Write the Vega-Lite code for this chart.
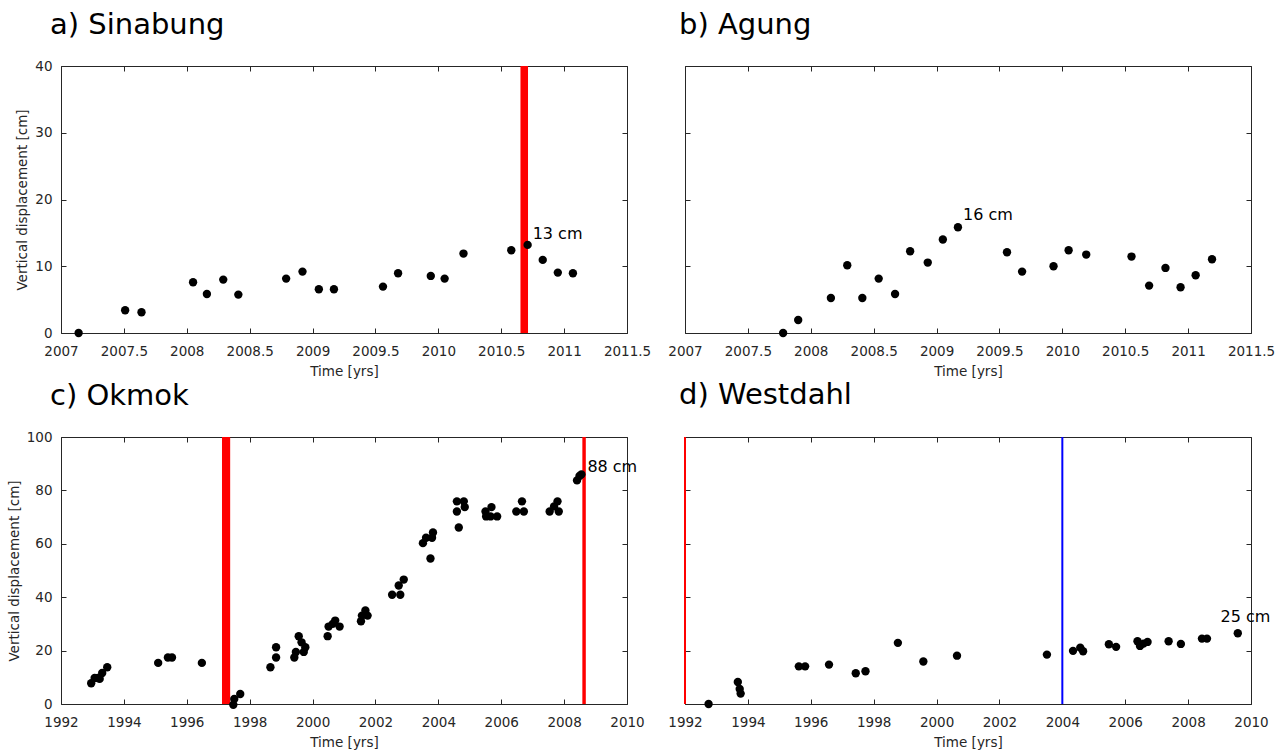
{
  "$schema": "https://vega.github.io/schema/vega-lite/v6.json",
  "padding": {"left": 6, "top": 10, "right": 5, "bottom": 5},
  "background": "#ffffff",
  "config": {
    "font": "DejaVu Sans",
    "view": {"stroke": "#262626", "strokeWidth": 1},
    "axis": {"domain": false, "grid": false, "ticks": true, "tickSize": -5, "tickColor": "#262626", "tickWidth": 1, "labelColor": "#262626", "labelFontSize": 13.5, "labelFont": "DejaVu Sans", "titleFont": "DejaVu Sans", "titleFontSize": 13.5, "titleFontWeight": "normal", "titleColor": "#262626", "labelFlush": false, "labelOverlap": false},
    "axisX": {"labelPadding": 16, "titlePadding": 7},
    "axisY": {"labelPadding": 14, "titlePadding": 5},
    "title": {"anchor": "start", "fontSize": 29, "fontWeight": "normal", "font": "DejaVu Sans", "color": "#000000", "baseline": "alphabetic", "offset": 26, "frame": "group"}
  },
  "datasets": {
    "a_pts": [
      {"t": 2007.14, "d": 0}, {"t": 2007.51, "d": 3.4}, {"t": 2007.64, "d": 3.1}, {"t": 2008.05, "d": 7.6},
      {"t": 2008.16, "d": 5.85}, {"t": 2008.29, "d": 8.0}, {"t": 2008.41, "d": 5.75}, {"t": 2008.79, "d": 8.15},
      {"t": 2008.92, "d": 9.2}, {"t": 2009.05, "d": 6.55}, {"t": 2009.17, "d": 6.55}, {"t": 2009.56, "d": 6.95},
      {"t": 2009.68, "d": 8.95}, {"t": 2009.94, "d": 8.55}, {"t": 2010.05, "d": 8.15}, {"t": 2010.20, "d": 11.9},
      {"t": 2010.58, "d": 12.4}, {"t": 2010.71, "d": 13.2}, {"t": 2010.83, "d": 10.95}, {"t": 2010.95, "d": 9.05},
      {"t": 2011.07, "d": 8.95}
    ],
    "a_events": [{"start": 2010.653, "end": 2010.713}],
    "a_labels": [{"t": 2010.75, "d": 14.9, "label": "13 cm"}],
    "b_pts": [
      {"t": 2007.78, "d": 0}, {"t": 2007.90, "d": 1.95}, {"t": 2008.16, "d": 5.25}, {"t": 2008.29, "d": 10.15},
      {"t": 2008.41, "d": 5.25}, {"t": 2008.54, "d": 8.15}, {"t": 2008.67, "d": 5.85}, {"t": 2008.79, "d": 12.25},
      {"t": 2008.93, "d": 10.55}, {"t": 2009.05, "d": 14.0}, {"t": 2009.17, "d": 15.85}, {"t": 2009.56, "d": 12.1},
      {"t": 2009.68, "d": 9.2}, {"t": 2009.93, "d": 10.0}, {"t": 2010.05, "d": 12.4}, {"t": 2010.19, "d": 11.75},
      {"t": 2010.55, "d": 11.45}, {"t": 2010.69, "d": 7.1}, {"t": 2010.82, "d": 9.75}, {"t": 2010.94, "d": 6.85},
      {"t": 2011.06, "d": 8.65}, {"t": 2011.19, "d": 11.05}
    ],
    "b_labels": [{"t": 2009.21, "d": 17.65, "label": "16 cm"}],
    "c_pts": [
      {"t": 1992.96, "d": 7.75}, {"t": 1993.07, "d": 9.75}, {"t": 1993.17, "d": 9.75}, {"t": 1993.23, "d": 9.4},
      {"t": 1993.31, "d": 11.6}, {"t": 1993.47, "d": 13.75}, {"t": 1995.09, "d": 15.4}, {"t": 1995.40, "d": 17.4},
      {"t": 1995.53, "d": 17.4}, {"t": 1996.48, "d": 15.4}, {"t": 1997.48, "d": -0.3}, {"t": 1997.51, "d": 1.9},
      {"t": 1997.70, "d": 3.75}, {"t": 1998.66, "d": 13.75}, {"t": 1998.84, "d": 17.4}, {"t": 1998.84, "d": 21.25},
      {"t": 1999.42, "d": 17.4}, {"t": 1999.47, "d": 19.5}, {"t": 1999.56, "d": 25.4}, {"t": 1999.65, "d": 23.1},
      {"t": 1999.72, "d": 19.5}, {"t": 1999.77, "d": 21.25}, {"t": 2000.48, "d": 25.4}, {"t": 2000.51, "d": 29},
      {"t": 2000.64, "d": 30}, {"t": 2000.72, "d": 31.25}, {"t": 2000.86, "d": 29}, {"t": 2001.54, "d": 31},
      {"t": 2001.57, "d": 33.1}, {"t": 2001.68, "d": 35}, {"t": 2001.75, "d": 33.1}, {"t": 2002.53, "d": 40.9},
      {"t": 2002.79, "d": 40.9}, {"t": 2002.74, "d": 44.4}, {"t": 2002.90, "d": 46.6}, {"t": 2003.51, "d": 60.25},
      {"t": 2003.61, "d": 62.25}, {"t": 2003.75, "d": 54.5}, {"t": 2003.80, "d": 62.25}, {"t": 2003.83, "d": 64.25},
      {"t": 2004.59, "d": 75.9}, {"t": 2004.59, "d": 72.1}, {"t": 2004.65, "d": 66.1}, {"t": 2004.81, "d": 75.9},
      {"t": 2004.84, "d": 73.75}, {"t": 2005.50, "d": 72.1}, {"t": 2005.52, "d": 70.25}, {"t": 2005.69, "d": 73.75},
      {"t": 2005.66, "d": 70.25}, {"t": 2005.87, "d": 70.25}, {"t": 2006.48, "d": 72.1}, {"t": 2006.66, "d": 75.9},
      {"t": 2006.72, "d": 72.1}, {"t": 2007.54, "d": 72.1}, {"t": 2007.68, "d": 74}, {"t": 2007.79, "d": 75.9},
      {"t": 2007.83, "d": 72.1}, {"t": 2008.41, "d": 83.75}, {"t": 2008.49, "d": 85.4}, {"t": 2008.55, "d": 86}
    ],
    "c_events": [{"start": 1997.12, "end": 1997.38}, {"start": 2008.58, "end": 2008.69}],
    "c_labels": [{"t": 2008.74, "d": 88.8, "label": "88 cm"}],
    "d_pts": [
      {"t": 1992.75, "d": 0}, {"t": 1993.68, "d": 8.25}, {"t": 1993.74, "d": 5.6}, {"t": 1993.77, "d": 3.9},
      {"t": 1995.62, "d": 14.1}, {"t": 1995.82, "d": 14.1}, {"t": 1996.58, "d": 14.75}, {"t": 1997.43, "d": 11.5},
      {"t": 1997.74, "d": 12.25}, {"t": 1998.77, "d": 22.9}, {"t": 1999.58, "d": 15.9}, {"t": 2000.65, "d": 18.1},
      {"t": 2003.51, "d": 18.5}, {"t": 2004.34, "d": 19.9}, {"t": 2004.57, "d": 21.1}, {"t": 2004.66, "d": 19.75},
      {"t": 2005.48, "d": 22.4}, {"t": 2005.71, "d": 21.4}, {"t": 2006.39, "d": 23.5}, {"t": 2006.47, "d": 21.75},
      {"t": 2006.58, "d": 22.6}, {"t": 2006.71, "d": 23.25}, {"t": 2007.38, "d": 23.5}, {"t": 2007.77, "d": 22.5},
      {"t": 2008.44, "d": 24.5}, {"t": 2008.60, "d": 24.5}, {"t": 2009.58, "d": 26.5}
    ],
    "d_red": [{"t": 1992.0}],
    "d_blue": [{"t": 2004.0}],
    "d_labels": [{"t": 2009.03, "d": 32.6, "label": "25 cm"}]
  },
  "bounds": "flush",
  "columns": 2,
  "spacing": {"row": 104, "column": 58},
  "concat": [
    {
      "width": 566, "height": 267,
      "title": {"text": "a) Sinabung", "dx": -11, "offset": 19},
      "resolve": {"axis": {"x": "independent", "y": "independent"}},
      "layer": [
        {"data": {"name": "a_events"}, "mark": {"type": "rect", "color": "#ff0000"},
         "encoding": {
           "x": {"field": "start", "type": "quantitative", "scale": {"domain": [2007, 2011.5], "nice": false, "zero": false}, "axis": null},
           "x2": {"field": "end"},
           "y": {"datum": 0, "type": "quantitative", "scale": {"domain": [0, 40], "nice": false, "zero": false}, "axis": null},
           "y2": {"datum": 40}}},
        {"data": {"name": "a_pts"}, "mark": {"type": "circle", "color": "#000000", "size": 70, "opacity": 1},
         "encoding": {
           "x": {"field": "t", "type": "quantitative", "scale": {"domain": [2007, 2011.5], "nice": false, "zero": false}, "title": "Time [yrs]", "axis": {"values": [2007, 2007.5, 2008, 2008.5, 2009, 2009.5, 2010, 2010.5, 2011, 2011.5], "format": "~f"}},
           "y": {"field": "d", "type": "quantitative", "scale": {"domain": [0, 40], "nice": false, "zero": false}, "title": "Vertical displacement [cm]", "axis": {"values": [0, 10, 20, 30, 40], "format": "d"}}}},
        {"data": {"name": "a_labels"}, "mark": {"type": "text", "align": "left", "baseline": "middle", "fontSize": 16, "color": "#000000", "font": "DejaVu Sans"},
         "encoding": {
           "x": {"field": "t", "type": "quantitative", "scale": {"domain": [2007, 2011.5], "nice": false, "zero": false}, "axis": null},
           "y": {"field": "d", "type": "quantitative", "scale": {"domain": [0, 40], "nice": false, "zero": false}, "axis": null},
           "text": {"field": "label"}}},
        {"data": {"name": "a_pts"}, "mark": {"type": "point", "opacity": 0},
         "encoding": {
           "x": {"field": "t", "type": "quantitative", "scale": {"domain": [2007, 2011.5], "nice": false, "zero": false}, "axis": {"orient": "top", "labels": false, "title": null, "values": [2007, 2007.5, 2008, 2008.5, 2009, 2009.5, 2010, 2010.5, 2011, 2011.5]}},
           "y": {"field": "d", "type": "quantitative", "scale": {"domain": [0, 40], "nice": false, "zero": false}, "axis": {"orient": "right", "labels": false, "title": null, "values": [0, 10, 20, 30, 40]}}}}
      ]
    },
    {
      "width": 566, "height": 267,
      "title": {"text": "b) Agung", "dx": -6, "offset": 26},
      "resolve": {"axis": {"x": "independent", "y": "independent"}},
      "layer": [
        {"data": {"name": "b_pts"}, "mark": {"type": "circle", "color": "#000000", "size": 70, "opacity": 1},
         "encoding": {
           "x": {"field": "t", "type": "quantitative", "scale": {"domain": [2007, 2011.5], "nice": false, "zero": false}, "title": "Time [yrs]", "axis": {"values": [2007, 2007.5, 2008, 2008.5, 2009, 2009.5, 2010, 2010.5, 2011, 2011.5], "format": "~f"}},
           "y": {"field": "d", "type": "quantitative", "scale": {"domain": [0, 40], "nice": false, "zero": false}, "axis": {"values": [0, 10, 20, 30, 40], "labels": false, "title": null}}}},
        {"data": {"name": "b_labels"}, "mark": {"type": "text", "align": "left", "baseline": "middle", "fontSize": 16, "color": "#000000", "font": "DejaVu Sans"},
         "encoding": {
           "x": {"field": "t", "type": "quantitative", "scale": {"domain": [2007, 2011.5], "nice": false, "zero": false}, "axis": null},
           "y": {"field": "d", "type": "quantitative", "scale": {"domain": [0, 40], "nice": false, "zero": false}, "axis": null},
           "text": {"field": "label"}}},
        {"data": {"name": "b_pts"}, "mark": {"type": "point", "opacity": 0},
         "encoding": {
           "x": {"field": "t", "type": "quantitative", "scale": {"domain": [2007, 2011.5], "nice": false, "zero": false}, "axis": {"orient": "top", "labels": false, "title": null, "values": [2007, 2007.5, 2008, 2008.5, 2009, 2009.5, 2010, 2010.5, 2011, 2011.5]}},
           "y": {"field": "d", "type": "quantitative", "scale": {"domain": [0, 40], "nice": false, "zero": false}, "axis": {"orient": "right", "labels": false, "title": null, "values": [0, 10, 20, 30, 40]}}}}
      ]
    },
    {
      "width": 566, "height": 267,
      "title": {"text": "c) Okmok", "dx": -11, "offset": 19},
      "resolve": {"axis": {"x": "independent", "y": "independent"}},
      "layer": [
        {"data": {"name": "c_events"}, "mark": {"type": "rect", "color": "#ff0000"},
         "encoding": {
           "x": {"field": "start", "type": "quantitative", "scale": {"domain": [1992, 2010], "nice": false, "zero": false}, "axis": null},
           "x2": {"field": "end"},
           "y": {"datum": 0, "type": "quantitative", "scale": {"domain": [0, 100], "nice": false, "zero": false}, "axis": null},
           "y2": {"datum": 100}}},
        {"data": {"name": "c_pts"}, "mark": {"type": "circle", "color": "#000000", "size": 70, "opacity": 1},
         "encoding": {
           "x": {"field": "t", "type": "quantitative", "scale": {"domain": [1992, 2010], "nice": false, "zero": false}, "title": "Time [yrs]", "axis": {"values": [1992, 1994, 1996, 1998, 2000, 2002, 2004, 2006, 2008, 2010], "format": "d"}},
           "y": {"field": "d", "type": "quantitative", "scale": {"domain": [0, 100], "nice": false, "zero": false}, "title": "Vertical displacement [cm]", "axis": {"values": [0, 20, 40, 60, 80, 100], "format": "d"}}}},
        {"data": {"name": "c_labels"}, "mark": {"type": "text", "align": "left", "baseline": "middle", "fontSize": 16, "color": "#000000", "font": "DejaVu Sans"},
         "encoding": {
           "x": {"field": "t", "type": "quantitative", "scale": {"domain": [1992, 2010], "nice": false, "zero": false}, "axis": null},
           "y": {"field": "d", "type": "quantitative", "scale": {"domain": [0, 100], "nice": false, "zero": false}, "axis": null},
           "text": {"field": "label"}}},
        {"data": {"name": "c_pts"}, "mark": {"type": "point", "opacity": 0},
         "encoding": {
           "x": {"field": "t", "type": "quantitative", "scale": {"domain": [1992, 2010], "nice": false, "zero": false}, "axis": {"orient": "top", "labels": false, "title": null, "values": [1992, 1994, 1996, 1998, 2000, 2002, 2004, 2006, 2008, 2010]}},
           "y": {"field": "d", "type": "quantitative", "scale": {"domain": [0, 100], "nice": false, "zero": false}, "axis": {"orient": "right", "labels": false, "title": null, "values": [0, 20, 40, 60, 80, 100]}}}}
      ]
    },
    {
      "width": 566, "height": 267,
      "title": {"text": "d) Westdahl", "dx": -6, "offset": 26},
      "resolve": {"axis": {"x": "independent", "y": "independent"}},
      "layer": [
        {"data": {"name": "d_red"}, "mark": {"type": "rule", "color": "#ff0000", "strokeWidth": 2},
         "encoding": {
           "x": {"field": "t", "type": "quantitative", "scale": {"domain": [1992, 2010], "nice": false, "zero": false}, "axis": null}}},
        {"data": {"name": "d_blue"}, "mark": {"type": "rule", "color": "#0000ff", "strokeWidth": 2},
         "encoding": {
           "x": {"field": "t", "type": "quantitative", "scale": {"domain": [1992, 2010], "nice": false, "zero": false}, "axis": null}}},
        {"data": {"name": "d_pts"}, "mark": {"type": "circle", "color": "#000000", "size": 70, "opacity": 1},
         "encoding": {
           "x": {"field": "t", "type": "quantitative", "scale": {"domain": [1992, 2010], "nice": false, "zero": false}, "title": "Time [yrs]", "axis": {"values": [1992, 1994, 1996, 1998, 2000, 2002, 2004, 2006, 2008, 2010], "format": "d"}},
           "y": {"field": "d", "type": "quantitative", "scale": {"domain": [0, 100], "nice": false, "zero": false}, "axis": {"values": [0, 20, 40, 60, 80, 100], "labels": false, "title": null}}}},
        {"data": {"name": "d_labels"}, "mark": {"type": "text", "align": "left", "baseline": "middle", "fontSize": 16, "color": "#000000", "font": "DejaVu Sans"},
         "encoding": {
           "x": {"field": "t", "type": "quantitative", "scale": {"domain": [1992, 2010], "nice": false, "zero": false}, "axis": null},
           "y": {"field": "d", "type": "quantitative", "scale": {"domain": [0, 100], "nice": false, "zero": false}, "axis": null},
           "text": {"field": "label"}}},
        {"data": {"name": "d_pts"}, "mark": {"type": "point", "opacity": 0},
         "encoding": {
           "x": {"field": "t", "type": "quantitative", "scale": {"domain": [1992, 2010], "nice": false, "zero": false}, "axis": {"orient": "top", "labels": false, "title": null, "values": [1992, 1994, 1996, 1998, 2000, 2002, 2004, 2006, 2008, 2010]}},
           "y": {"field": "d", "type": "quantitative", "scale": {"domain": [0, 100], "nice": false, "zero": false}, "axis": {"orient": "right", "labels": false, "title": null, "values": [0, 20, 40, 60, 80, 100]}}}}
      ]
    }
  ]
}
